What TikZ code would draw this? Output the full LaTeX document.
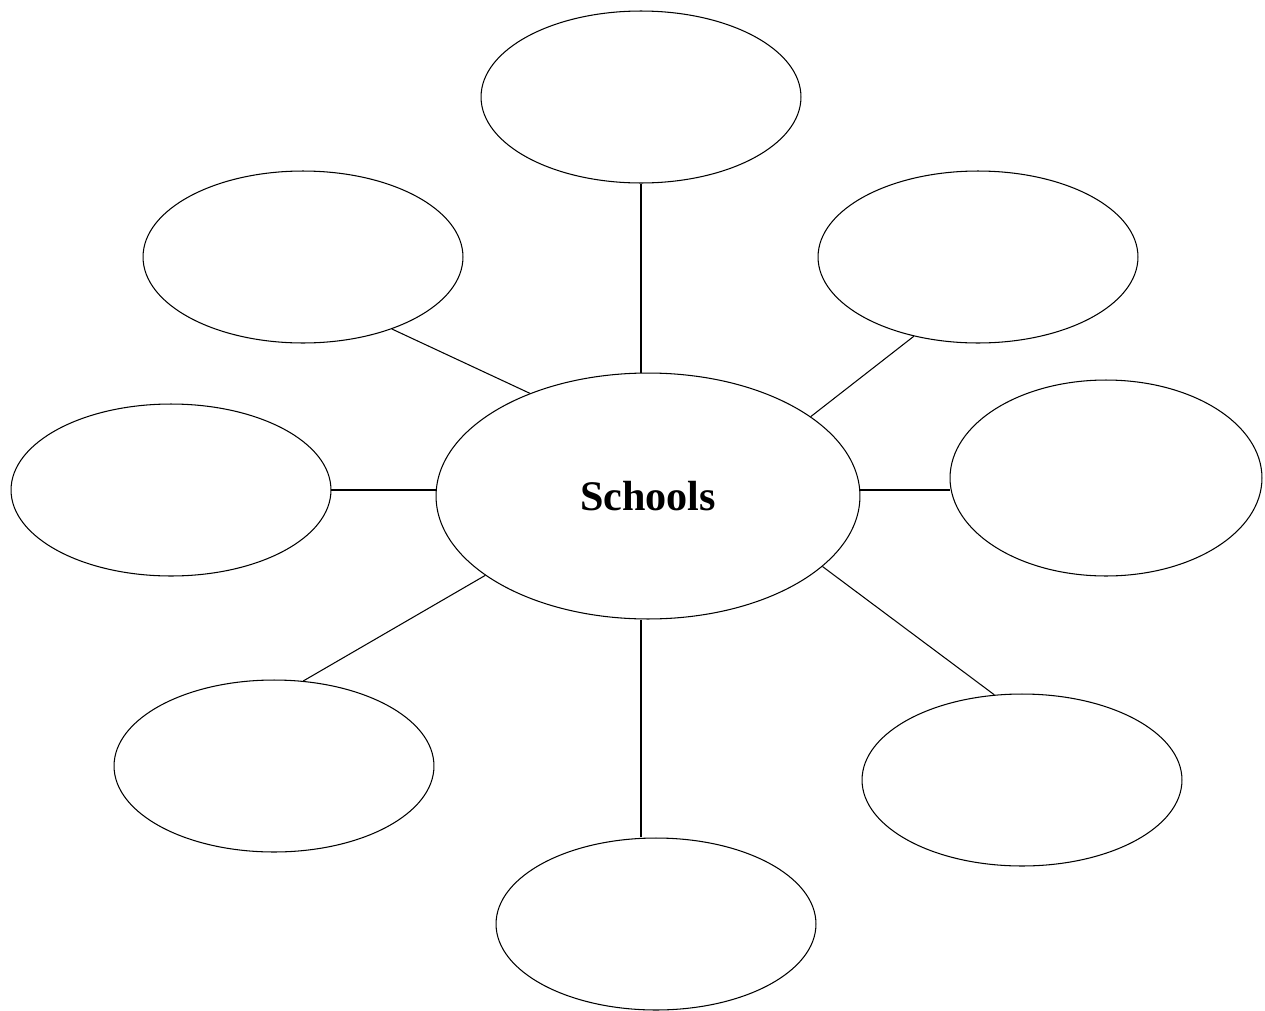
\documentclass[tikz,border=0pt]{standalone}
\usepackage{fontspec}
\setmainfont{Liberation Serif}
\usetikzlibrary{shapes.geometric}
\tikzset{
  bubble/.style={ellipse, draw, line width=0.6pt, inner sep=0pt, minimum width=6.4cm, minimum height=3.44cm},
  spoke/.style={line width=0.6pt}
}
\begin{document}
\begin{tikzpicture}[x=0.02cm, y=-0.02cm]
			\useasboundingbox (0,0) rectangle (1265,1011);
			
			% Centre bubble
			\node [bubble, minimum width=8.48cm, minimum height=4.92cm, font=\fontsize{24}{28}\selectfont\bfseries] (c) at (648,496) {Schools};
			
			% Outer bubbles
			\node [bubble] (top) at (641,97) {};
			\node [bubble] (ul) at (303,257) {};
			\node [bubble] (ur) at (978,257) {};
			\node [bubble] (lt) at (171,490) {};
			\node [bubble, minimum width=6.24cm, minimum height=3.92cm] (rt) at (1106,478) {};
			\node [bubble] (ll) at (274,766) {};
			\node [bubble] (lr) at (1022,780) {};
			\node [bubble] (bot) at (656,924) {};
			
			% Spokes
			\draw [spoke] (top.south) -- (top.south |- c.north);
			\draw [spoke] (ul.-39) -- (c.139);
			\draw [spoke] (ur.-129) -- (c.26);
			\draw [spoke] (lt.east) -- (lt.east -| c.west);
			\draw [spoke] (c.east |- lt.east) -- (rt.west |- lt.east);
			\draw [spoke] (ll.71) -- (c.-154);
			\draw [spoke] (lr.108) -- (c.-22);
			\draw [spoke] (c.south -| top.south) -- (bot.north -| top.south);
		\end{tikzpicture}
\end{document}
